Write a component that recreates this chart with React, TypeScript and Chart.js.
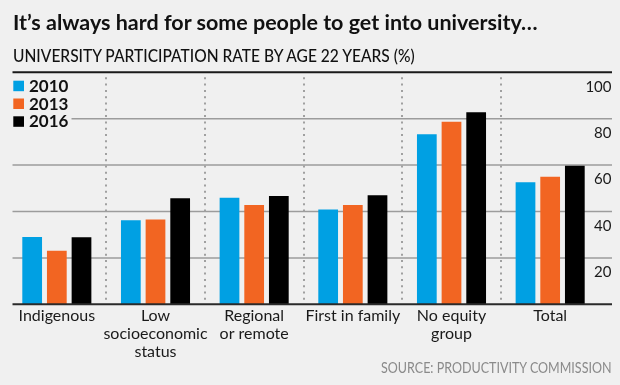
import React, { useEffect, useRef, useMemo } from 'react';
import { Chart, registerables } from 'chart.js';

Chart.register(...registerables);

const CATEGORIES: string[][] = [
  ['Indigenous'],
  ['Low', 'socioeconomic', 'status'],
  ['Regional', 'or remote'],
  ['First in family'],
  ['No equity', 'group'],
  ['Total'],
];
const YEARS = ['2010', '2013', '2016'];
const VALUES_2010 = [29.0, 36.2, 45.9, 40.9, 73.3, 52.6];
const VALUES_2013 = [23.1, 36.6, 42.8, 42.8, 78.7, 55.0];
const VALUES_2016 = [28.9, 45.7, 46.7, 47.0, 82.8, 59.7];
const Y_TICKS = [20, 40, 60, 80, 100];

const TITLE = 'It’s always hard for some people to get into university…';
const SUBTITLE = 'UNIVERSITY PARTICIPATION RATE BY AGE 22 YEARS (%)';
const SOURCE = 'SOURCE: PRODUCTIVITY COMMISSION';

const COLORS = ['#00a0e3', '#f26522', '#000000'];
const BG = '#f0f0f0';
const FONT = 'Lato, "Open Sans", sans-serif';

const W = 620;
const H = 385;

function measure(text: string, font: string): number {
  const c = document.createElement('canvas');
  const ctx = c.getContext('2d');
  if (!ctx) return 1;
  ctx.font = font;
  return ctx.measureText(text).width || 1;
}

const decor = {
  id: 'decor',
  beforeDatasetsDraw(chart: any) {
    const { ctx, chartArea, scales } = chart;
    const x = scales.x;
    const y = scales.y;
    const L = 12.5;
    const R = 612;
    const top = y.getPixelForValue(100);
    const bottom = chartArea.bottom;
    ctx.save();
    // horizontal grid lines
    ctx.strokeStyle = '#9c9c9c';
    ctx.lineWidth = 1.5;
    for (const v of Y_TICKS) {
      if (v === 100) continue;
      const py = y.getPixelForValue(v);
      ctx.beginPath();
      ctx.moveTo(L, py);
      ctx.lineTo(R, py);
      ctx.stroke();
    }
    // top rule
    ctx.strokeStyle = '#1a1a1a';
    ctx.lineWidth = 2;
    ctx.beginPath();
    ctx.moveTo(L, top);
    ctx.lineTo(R, top);
    ctx.stroke();
    // dotted category dividers
    ctx.strokeStyle = '#a0a0a0';
    ctx.lineWidth = 2;
    ctx.setLineDash([2, 4.3]);
    const n = chart.data.labels.length;
    for (let i = 1; i < n; i++) {
      const px = Math.round((x.getPixelForValue(i - 1) + x.getPixelForValue(i)) / 2);
      ctx.beginPath();
      ctx.moveTo(px, top + 5);
      ctx.lineTo(px, bottom - 3);
      ctx.stroke();
    }
    ctx.setLineDash([]);
    // legend (with background cover)
    ctx.fillStyle = BG;
    ctx.fillRect(10, top + 3, 61.5, 56);
    chart.data.datasets.forEach((ds: any, i: number) => {
      const sy = top + 8.4 + i * 17.8;
      ctx.fillStyle = ds.backgroundColor;
      ctx.fillRect(13.3, sy, 10.7, 10.5);
      ctx.fillStyle = '#111111';
      ctx.font = `700 17px ${FONT}`;
      ctx.textAlign = 'left';
      ctx.textBaseline = 'alphabetic';
      ctx.fillText(ds.label, 29, sy + 11);
    });
    // y tick labels
    ctx.font = `400 15px ${FONT}`;
    ctx.textAlign = 'right';
    ctx.textBaseline = 'alphabetic';
    ctx.fillStyle = '#1a1a1a';
    for (const v of Y_TICKS) {
      ctx.fillText(String(v), 611.5, y.getPixelForValue(v) + 19.3);
    }
    ctx.restore();
  },
  afterDatasetsDraw(chart: any) {
    const { ctx, chartArea } = chart;
    ctx.save();
    ctx.strokeStyle = '#2a2a2a';
    ctx.lineWidth = 2;
    ctx.beginPath();
    ctx.moveTo(12.5, chartArea.bottom);
    ctx.lineTo(612, chartArea.bottom);
    ctx.stroke();
    ctx.restore();
  },
};

function FitText(props: {
  text: string;
  weight: number;
  size: number;
  width: number;
  left: number;
  top: number;
  color: string;
}) {
  const { text, weight, size, width, left, top, color } = props;
  const sx = useMemo(() => width / measure(text, `${weight} ${size}px ${FONT}`), [text, weight, size, width]);
  return (
    <div
      style={{
        position: 'absolute',
        left,
        top,
        whiteSpace: 'nowrap',
        fontFamily: FONT,
        fontWeight: weight,
        fontSize: size,
        lineHeight: `${size * 1.2}px`,
        color,
        transformOrigin: 'left top',
        transform: `scaleX(${sx})`,
      }}
    >
      {text}
    </div>
  );
}

export default function App() {
  const canvasRef = useRef<HTMLCanvasElement | null>(null);

  useEffect(() => {
    document.body.style.margin = '0';
    document.body.style.background = BG;
    const canvas = canvasRef.current;
    if (!canvas) return;
    const chart = new Chart(canvas, {
      type: 'bar',
      data: {
        labels: CATEGORIES,
        datasets: [
          { label: YEARS[0], data: VALUES_2010, backgroundColor: COLORS[0] },
          { label: YEARS[1], data: VALUES_2013, backgroundColor: COLORS[1] },
          { label: YEARS[2], data: VALUES_2016, backgroundColor: COLORS[2] },
        ],
      },
      options: {
        responsive: false,
        animation: false,
        devicePixelRatio: 1,
        layout: { padding: { left: 7.5, right: 20.5, top: 72.3, bottom: 0 } },
        datasets: {
          bar: { categoryPercentage: 0.75, barPercentage: 0.8, borderWidth: 0 },
        },
        plugins: {
          legend: { display: false },
          tooltip: { enabled: false },
          title: { display: false },
        },
        scales: {
          x: {
            grid: { display: false, drawTicks: false },
            border: { display: false },
            ticks: {
              autoSkip: false,
              maxRotation: 0,
              padding: 3,
              color: '#1a1a1a',
              font: { family: FONT, size: 16, lineHeight: 1.11 },
            },
            afterFit: (scale: any) => {
              scale.height = 80.7;
            },
          },
          y: {
            display: false,
            min: 0,
            max: 100,
          },
        },
      },
      plugins: [decor],
    } as any);
    return () => chart.destroy();
  }, []);

  return (
    <div style={{ position: 'relative', width: W, height: H, background: BG, overflow: 'hidden' }}>
      <canvas ref={canvasRef} width={W} height={H} style={{ display: 'block', width: W, height: H }} />
      <FitText text={TITLE} weight={700} size={21} width={525} left={13} top={9.3} color="#111111" />
      <FitText text={SUBTITLE} weight={500} size={17.7} width={404} left={13} top={45.2} color="#111111" />
      <FitText text={SOURCE} weight={400} size={15.3} width={231} left={380.7} top={357.6} color="#8a8a8a" />
    </div>
  );
}
